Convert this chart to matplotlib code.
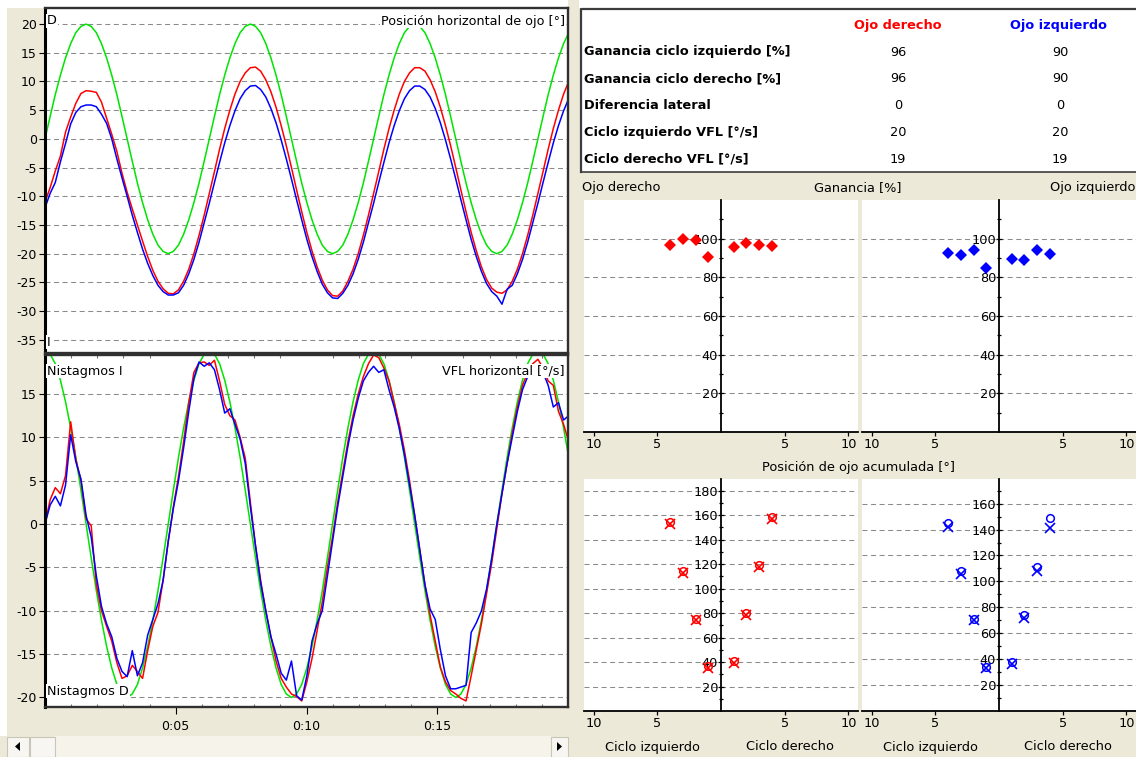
import matplotlib
matplotlib.use("Agg")
import matplotlib.pyplot as plt
import numpy as np
from matplotlib.patches import Polygon, Rectangle

plt.rcParams["font.family"] = ["DejaVu Sans"]
plt.rcParams["axes.unicode_minus"] = False

# sample clock of the recording: 32 samples per stimulus cycle (2*pi s)
DT = np.pi / 16

# horizontal eye position [deg]
STIM_POS = [
    0.0, 3.9, 7.7, 11.1, 14.1, 16.6, 18.5, 19.6,
    20.0, 19.6, 18.5, 16.6, 14.1, 11.1, 7.7, 3.9,
    0.0, -3.9, -7.7, -11.1, -14.1, -16.6, -18.5, -19.6,
    -20.0, -19.6, -18.5, -16.6, -14.1, -11.1, -7.7, -3.9,
    0.0, 3.9, 7.7, 11.1, 14.1, 16.6, 18.5, 19.6,
    20.0, 19.6, 18.5, 16.6, 14.1, 11.1, 7.7, 3.9,
    0.0, -3.9, -7.7, -11.1, -14.1, -16.6, -18.5, -19.6,
    -20.0, -19.6, -18.5, -16.6, -14.1, -11.1, -7.7, -3.9,
    0.0, 3.9, 7.7, 11.1, 14.1, 16.6, 18.5, 19.6,
    20.0, 19.6, 18.5, 16.6, 14.1, 11.1, 7.7, 3.9,
    0.0, -3.9, -7.7, -11.1, -14.1, -16.6, -18.5, -19.6,
    -20.0, -19.6, -18.5, -16.6, -14.1, -11.1, -7.7, -3.9,
    0.0, 3.9, 7.7, 11.1, 14.1, 16.6, 18.5,
]
RIGHT_POS = [
    -11.0, -8.5, -5.6, -3.0, 1.2, 3.8, 6.2, 7.9,
    8.4, 8.3, 8.1, 6.4, 3.6, 0.8, -2.2, -6.0,
    -9.3, -12.2, -15.0, -17.8, -20.5, -22.9, -24.8, -26.1,
    -26.9, -27.0, -26.3, -24.8, -22.7, -20.0, -16.8, -13.3,
    -9.5, -5.7, -1.8, 1.8, 5.0, 7.8, 10.0, 11.5,
    12.4, 12.5, 11.8, 10.3, 8.2, 5.5, 2.3, -1.2,
    -5.0, -8.9, -12.7, -16.3, -19.5, -22.3, -24.6, -26.3,
    -27.3, -27.4, -26.5, -24.8, -22.7, -20.0, -16.8, -13.3,
    -9.5, -5.7, -1.8, 1.8, 5.0, 7.8, 10.0, 11.5,
    12.4, 12.4, 11.8, 10.3, 8.2, 5.5, 2.3, -1.2,
    -5.0, -8.9, -12.7, -16.3, -19.5, -22.3, -24.5, -26.0,
    -26.7, -26.9, -26.3, -24.8, -22.7, -20.0, -16.8, -13.3,
    -9.5, -5.7, -1.8, 1.8, 5.0, 7.8, 10.0,
]
LEFT_POS = [
    -12.0, -9.5, -7.6, -4.0, -0.8, 2.6, 4.6, 5.6,
    5.9, 5.9, 5.6, 4.3, 2.7, 0.0, -3.5, -6.8,
    -10.0, -13.3, -16.3, -19.2, -21.7, -23.8, -25.5, -26.6,
    -27.2, -27.2, -26.8, -25.5, -23.5, -21.0, -18.0, -14.6,
    -11.2, -7.6, -4.1, -0.7, 2.3, 4.9, 7.0, 8.4,
    9.2, 9.3, 8.6, 7.3, 5.3, 2.8, -0.2, -3.5,
    -7.0, -10.6, -14.1, -17.5, -20.5, -23.1, -25.3, -26.8,
    -27.7, -27.8, -26.9, -25.5, -23.5, -21.0, -18.0, -14.6,
    -11.2, -7.6, -4.1, -0.7, 2.3, 4.9, 7.0, 8.4,
    9.2, 9.2, 8.6, 7.3, 5.3, 2.8, -0.2, -3.5,
    -7.0, -10.6, -14.1, -17.5, -20.5, -23.1, -25.2, -26.6,
    -27.4, -28.8, -26.2, -25.5, -23.5, -21.0, -18.0, -14.6,
    -11.2, -7.6, -4.1, -0.7, 2.3, 4.9, 7.0,
]

# slow phase velocity [deg/s]
STIM_VEL = [
    20.0, 19.6, 18.5, 16.6, 14.1, 11.1, 7.7, 3.9,
    0.0, -3.9, -7.7, -11.1, -14.1, -16.6, -18.5, -19.6,
    -20.0, -19.6, -18.5, -16.6, -14.1, -11.1, -7.7, -3.9,
    0.0, 3.9, 7.7, 11.1, 14.1, 16.6, 18.5, 19.6,
    20.0, 19.6, 18.5, 16.6, 14.1, 11.1, 7.7, 3.9,
    0.0, -3.9, -7.7, -11.1, -14.1, -16.6, -18.5, -19.6,
    -20.0, -19.6, -18.5, -16.6, -14.1, -11.1, -7.7, -3.9,
    0.0, 3.9, 7.7, 11.1, 14.1, 16.6, 18.5, 19.6,
    20.0, 19.6, 18.5, 16.6, 14.1, 11.1, 7.7, 3.9,
    0.0, -3.9, -7.7, -11.1, -14.1, -16.6, -18.5, -19.6,
    -20.0, -19.6, -18.5, -16.6, -14.1, -11.1, -7.7, -3.9,
    0.0, 3.9, 7.7, 11.1, 14.1, 16.6, 18.5, 19.6,
    20.0, 19.6, 18.5, 16.6, 14.1, 11.1, 7.7,
]
RIGHT_VEL = [
    0.0, 2.8, 4.2, 3.5, 5.6, 11.8, 7.5, 5.0, 0.6, -0.2,
    -7.0, -10.0, -11.8, -13.5, -16.0, -17.8, -17.5, -16.3, -17.0, -17.8,
    -14.6, -11.8, -10.2, -6.5, -2.0, 2.0, 5.5, 9.5, 14.0, 17.5,
    18.6, 18.7, 18.3, 18.9, 16.5, 13.8, 12.5, 12.0, 10.0, 7.6,
    2.5, -2.5, -6.5, -10.0, -13.0, -15.8, -17.8, -18.8, -19.6, -19.9,
    -20.4, -18.2, -15.5, -12.3, -9.0, -5.0, -1.5, 2.5, 6.0, 9.5,
    12.5, 15.0, 17.0, 18.5, 19.5, 19.2, 18.0, 16.5, 14.0, 11.5,
    8.5, 5.0, 1.0, -3.0, -7.0, -10.5, -13.5, -16.5, -18.2, -19.2,
    -19.6, -20.1, -20.4, -17.5, -14.5, -11.5, -8.0, -4.5, -0.5, 3.5,
    7.0, 10.5, 13.5, 16.0, 17.5, 18.5, 19.0, 18.0, 16.5, 16.0,
    13.0, 11.5, 9.5,
]
LEFT_VEL = [
    0.0, 2.2, 3.2, 2.1, 4.5, 10.3, 7.2, 5.2, 1.0, -1.5,
    -6.0, -9.5, -11.5, -13.0, -15.5, -17.0, -17.6, -14.6, -17.5, -16.0,
    -12.8, -11.0, -9.2, -6.5, -2.0, 1.8, 5.0, 8.8, 13.0, 16.8,
    18.7, 18.2, 18.6, 17.8, 15.5, 12.8, 13.3, 11.5, 9.8, 7.0,
    2.0, -2.5, -6.8, -10.0, -13.0, -15.0, -17.2, -18.0, -15.8, -19.8,
    -20.3, -17.5, -13.5, -11.5, -10.0, -6.0, -2.0, 2.0, 5.5, 9.0,
    12.0, 14.5, 16.5, 17.5, 18.2, 17.5, 17.8, 15.5, 13.5, 11.0,
    8.0, 4.5, 1.0, -3.0, -7.0, -9.8, -11.0, -14.5, -17.5, -19.0,
    -19.0, -18.8, -18.6, -12.5, -11.4, -10.0, -7.5, -4.0, 0.0, 3.5,
    7.0, 10.0, 13.0, 15.5, 17.0, 18.0, 17.2, 17.5, 16.0, 13.5,
    14.0, 12.0, 12.5,
]

TIME_TICKS = [5, 10, 15]
TIME_LABELS = ["0:05", "0:10", "0:15"]

# per-cycle results, cycles 1..4
CYCLES = [1, 2, 3, 4]
GAIN_R_LEFT = [90.5, 99.1, 99.8, 96.9]
GAIN_R_RIGHT = [95.5, 97.8, 96.9, 96.2]
GAIN_L_LEFT = [84.8, 93.9, 91.7, 92.6]
GAIN_L_RIGHT = [89.6, 89.1, 93.9, 91.9]

ACC_R_LEFT_X = [35.0, 74.0, 113.0, 153.0]
ACC_R_LEFT_O = [36.5, 75.5, 114.5, 154.5]
ACC_R_RIGHT_X = [39.5, 78.5, 118.0, 157.0]
ACC_R_RIGHT_O = [41.0, 80.0, 119.5, 158.5]
ACC_L_LEFT_X = [32.8, 70.5, 105.7, 142.3]
ACC_L_LEFT_O = [34.1, 71.0, 107.7, 145.4]
ACC_L_RIGHT_X = [36.2, 71.8, 107.7, 141.5]
ACC_L_RIGHT_O = [37.7, 74.4, 111.0, 149.0]

TABLE_ROWS = [
    "Ganancia ciclo izquierdo [%]",
    "Ganancia ciclo derecho [%]",
    "Diferencia lateral",
    "Ciclo izquierdo VFL [°/s]",
    "Ciclo derecho VFL [°/s]",
]
TABLE_RIGHT_EYE = [96, 96, 0, 20, 19]
TABLE_LEFT_EYE = [90, 90, 0, 20, 19]

W, H = 1136, 757
BEIGE = "#ECE9D8"
GRID = "#8A8A8A"
RED, BLUE, GREEN = "#FF0000", "#0000FF", "#00E400"
DASH = (0, (4.8, 3.4))

fig = plt.figure(figsize=(W / 100, H / 100), dpi=100)
fig.patch.set_facecolor(BEIGE)


def px_axes(x0, y0, x1, y1):
    return fig.add_axes([x0 / W, 1 - y1 / H, (x1 - x0) / W, (y1 - y0) / H])


# window furniture in pixel coordinates
bg = px_axes(0, 0, W, H)
bg.set_xlim(0, W)
bg.set_ylim(H, 0)
bg.axis("off")
bg.patch.set_visible(False)

bg.add_patch(Rectangle((0, 0), 568, 8, fc="white", ec="none"))
bg.add_patch(Rectangle((579, 0), W - 579, 8, fc="white", ec="none"))
bg.add_patch(Rectangle((0, 0), 7, 736, fc="white", ec="none"))

# scroll bar under the traces
bg.add_patch(Rectangle((55, 736), 496, 21, fc="#F5F3EA", ec="none"))
for bx, bw in [(7, 22), (30, 25), (551, 17)]:
    bg.add_patch(Rectangle((bx, 736.5), bw, 20, fc="#F7F6F2", ec="#C9C6B8", lw=0.8))
bg.add_patch(Polygon([(15, 746.5), (20, 742), (20, 751)], fc="black", ec="none"))
bg.add_patch(Polygon([(562, 746.5), (557, 742), (557, 751)], fc="black", ec="none"))

# summary table
bg.add_patch(Rectangle((580, 9), W - 580, 163, fc="white", ec="none"))
bg.plot([580.5, 580.5, W], [172, 9, 9], color="#3C3C3C", lw=1.6)
bg.plot([580.5, W], [172, 172], color="#3C3C3C", lw=1.2)
bg.text(898, 26, "Ojo derecho", color=RED, fontsize=9.3, weight="bold",
        ha="center", va="center")
bg.text(1058, 26, "Ojo izquierdo", color=BLUE, fontsize=9.3, weight="bold",
        ha="center", va="center")
for i, (row, vr, vl) in enumerate(zip(TABLE_ROWS, TABLE_RIGHT_EYE, TABLE_LEFT_EYE)):
    y = 52 + i * 26.8
    bg.text(584, y, row, fontsize=9.3, weight="bold", ha="left", va="center")
    bg.text(898, y, str(vr), fontsize=9.3, ha="center", va="center")
    bg.text(1060, y, str(vl), fontsize=9.3, ha="center", va="center")

bg.text(582, 188, "Ojo derecho", fontsize=9.3, ha="left", va="center")
bg.text(858, 188, "Ganancia [%]", fontsize=9.3, ha="center", va="center")
bg.text(1135, 188, "Ojo izquierdo", fontsize=9.3, ha="right", va="center")
bg.text(858, 467, "Posición de ojo acumulada [°]", fontsize=9.3,
        ha="center", va="center")

t = np.arange(len(STIM_POS)) * DT


def trace_axes(y0, y1, ylim, yticks):
    ax = px_axes(45, y0, 568, y1)
    ax.set_facecolor("white")
    ax.set_xlim(0, 20)
    ax.set_ylim(*ylim)
    ax.set_yticks(yticks)
    ax.yaxis.grid(True, color=GRID, lw=0.75, linestyle=DASH)
    ax.set_axisbelow(True)
    ax.tick_params(axis="y", direction="out", length=4.5, width=0.8,
                   labelsize=9, pad=1.5)
    ax.spines["left"].set_linewidth(2.2)
    ax.spines["left"].set_color("black")
    for s in ("top", "right", "bottom"):
        ax.spines[s].set_linewidth(1.7)
        ax.spines[s].set_color("#303030")
    return ax


def corner_label(ax, x, y, s, ha="left"):
    ax.text(x, y, s, transform=bg.transData, fontsize=9.2, ha=ha, va="center",
            zorder=6, bbox=dict(fc="white", ec="none", pad=0.6))


ax_pos = trace_axes(8, 353, (-37.3, 22.8), np.arange(-35, 21, 5))
ax_pos.set_xticks([])
ax_pos.plot(t, STIM_POS, color=GREEN, lw=1.1)
ax_pos.plot(t, RIGHT_POS, color=RED, lw=1.1)
ax_pos.plot(t, LEFT_POS, color=BLUE, lw=1.1)
corner_label(ax_pos, 47, 21, "D")
corner_label(ax_pos, 565, 21, "Posición horizontal de ojo [°]", ha="right")
corner_label(ax_pos, 47, 342, "I")

ax_vel = trace_axes(355, 707, (-21.1, 19.5), np.arange(-20, 16, 5))
ax_vel.set_xticks(TIME_TICKS)
ax_vel.set_xticklabels(TIME_LABELS)
ax_vel.set_xticks(np.arange(1, 20), minor=True)
ax_vel.tick_params(axis="x", which="major", direction="out", length=5,
                   width=0.8, labelsize=9, pad=4)
ax_vel.tick_params(axis="x", which="minor", direction="in", length=2.2,
                   width=0.8, color="#707070", top=True, bottom=True)
ax_vel.plot(t, STIM_VEL, color=GREEN, lw=1.1)
ax_vel.plot(t, RIGHT_VEL, color=RED, lw=1.1)
ax_vel.plot(t, LEFT_VEL, color=BLUE, lw=1.1)
corner_label(ax_vel, 47, 371, "Nistagmos I")
corner_label(ax_vel, 565, 371, "VFL horizontal [°/s]", ha="right")
corner_label(ax_vel, 47, 691, "Nistagmos D")


def cycle_panel(x0, y0, x1, y1, ymax, major, minor):
    ax = px_axes(x0, y0, x1, y1)
    ax.set_facecolor("white")
    ax.set_xlim(-10.75, 10.75)
    ax.set_ylim(0, ymax)
    for s in ("top", "right"):
        ax.spines[s].set_visible(False)
    ax.spines["left"].set_position(("data", 0))
    ax.spines["left"].set_linewidth(1.3)
    ax.spines["bottom"].set_linewidth(1.3)
    ax.set_yticks(major)
    ax.set_yticks(minor, minor=True)
    ax.set_xticks([-10, -5, 5, 10])
    ax.set_xticklabels(["10", "5", "5", "10"])
    ax.tick_params(axis="y", which="major", direction="inout", length=4.3,
                   width=0.9, labelsize=9.3, pad=0)
    ax.tick_params(axis="y", which="minor", direction="inout", length=3,
                   width=0.9)
    ax.tick_params(axis="x", direction="out", length=3, width=0.9,
                   labelsize=9.3, pad=1.5)
    ax.yaxis.grid(True, which="major", color=GRID, lw=0.75, linestyle=DASH)
    ax.set_axisbelow(True)
    return ax


cyc = np.array(CYCLES)

gain_r = cycle_panel(584, 200, 858, 432, 120, range(20, 101, 20), range(10, 111, 20))
gain_l = cycle_panel(862, 200, 1136, 432, 120, range(20, 101, 20), range(10, 111, 20))
for ax, col, left, right in [(gain_r, RED, GAIN_R_LEFT, GAIN_R_RIGHT),
                             (gain_l, BLUE, GAIN_L_LEFT, GAIN_L_RIGHT)]:
    ax.plot(-cyc, left, "D", color=col, ms=6, mew=0)
    ax.plot(cyc, right, "D", color=col, ms=6, mew=0)

acc_r = cycle_panel(584, 479, 858, 711, 189.5, range(20, 181, 20), range(10, 190, 20))
acc_l = cycle_panel(862, 479, 1136, 711, 179, range(20, 161, 20), range(10, 171, 20))
for ax, col, lx, lo, rx, ro in [
        (acc_r, RED, ACC_R_LEFT_X, ACC_R_LEFT_O, ACC_R_RIGHT_X, ACC_R_RIGHT_O),
        (acc_l, BLUE, ACC_L_LEFT_X, ACC_L_LEFT_O, ACC_L_RIGHT_X, ACC_L_RIGHT_O)]:
    ax.plot(-cyc, lo, "o", mfc="none", mec=col, ms=5.5, mew=1.1)
    ax.plot(cyc, ro, "o", mfc="none", mec=col, ms=5.5, mew=1.1)
    ax.plot(-cyc, lx, "x", color=col, ms=7, mew=1.2)
    ax.plot(cyc, rx, "x", color=col, ms=7, mew=1.2)

for x0, x1 in [(584, 858), (862, 1136)]:
    xc = (x0 + x1) / 2
    bg.text((x0 + xc) / 2, 747, "Ciclo izquierdo", fontsize=9.3, ha="center", va="center")
    bg.text((xc + x1) / 2, 747, "Ciclo derecho", fontsize=9.3, ha="center", va="center")

fig.savefig("out.png", dpi=100, facecolor=fig.get_facecolor())
